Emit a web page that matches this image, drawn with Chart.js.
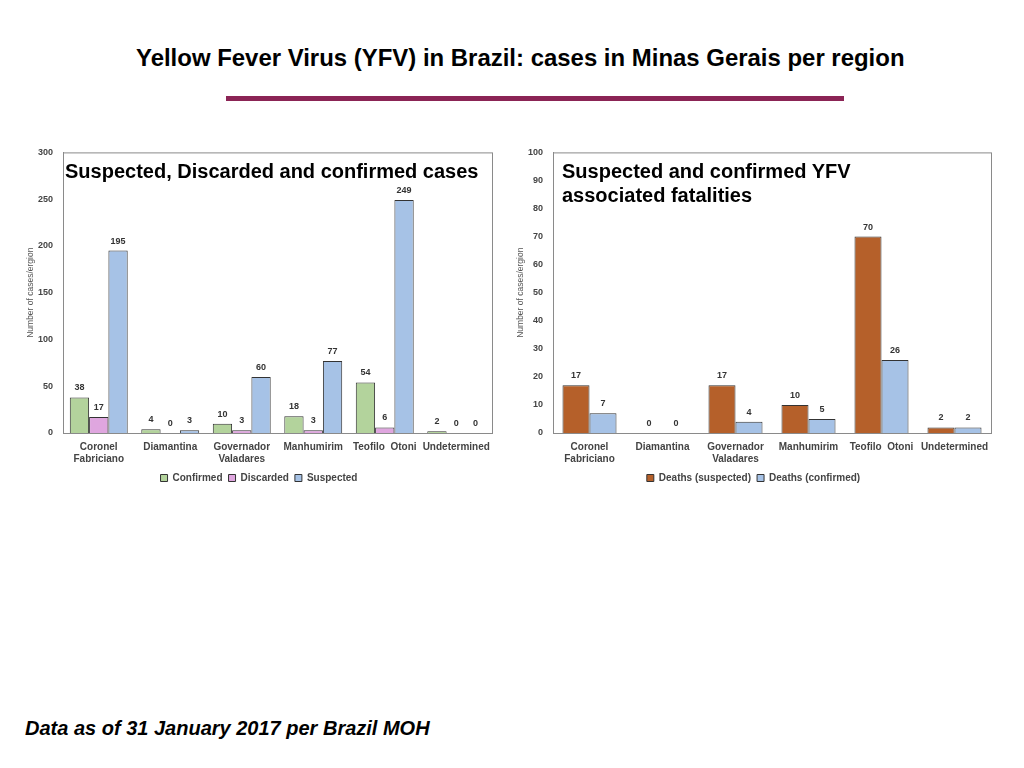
<!DOCTYPE html>
<html>
<head>
<meta charset="utf-8">
<script src="https://cdn.jsdelivr.net/npm/chart.js@4.4.1/dist/chart.umd.min.js"></script>
<style>
  body { margin:0; width:1024px; height:768px; background:#fff; position:relative; overflow:hidden; font-family:"Liberation Sans", Arial, sans-serif; }
  #title { position:absolute; top:44px; left:136px; white-space:nowrap; transform-origin:0 0; font-family:"Liberation Sans", Arial, sans-serif; font-weight:bold; font-size:24px; color:#000; }
  #rule { position:absolute; top:96px; left:226px; width:618px; height:5px; background:#8b2455; }
  .box { position:absolute; }
  .sub { position:absolute; font-weight:bold; font-size:20px; color:#000; line-height:24px; }
  #foot { position:absolute; top:717px; left:25px; font-weight:bold; font-style:italic; font-size:20px; color:#000; }
</style>
</head>
<body>
<div id="title">Yellow Fever Virus (YFV) in Brazil: cases in Minas Gerais per region</div>
<div id="rule"></div>

<div class="box" style="left:26px;top:137px;width:468px;height:356px;"><canvas id="casesChart"></canvas></div>
<div class="box" style="left:516px;top:137px;width:478px;height:356px;"><canvas id="deathsChart"></canvas></div>

<div class="sub" style="left:65px;top:159px;">Suspected, Discarded and confirmed cases</div>
<div class="sub" style="left:562px;top:159px;">Suspected and confirmed YFV<br>associated fatalities</div>

<div id="foot">Data as of 31 January 2017 per Brazil MOH</div>

<script>
// data
var regions = [['Coronel', 'Fabriciano'], 'Diamantina', ['Governador', 'Valadares'], 'Manhumirim', 'Teofilo  Otoni', 'Undetermined'];

var confirmed = [38, 4, 10, 18, 54, 2];
var discarded = [17, 0, 3, 3, 6, 0];
var suspected = [195, 3, 60, 77, 249, 0];

var deathsSuspected = [17, 0, 17, 10, 70, 2];
var deathsConfirmed = [7, 0, 4, 5, 26, 2];

var casesTicks = [0, 50, 100, 150, 200, 250, 300];
var deathsTicks = [0, 10, 20, 30, 40, 50, 60, 70, 80, 90, 100];

var tickFont = { family: '"Liberation Sans", Arial, sans-serif', size: 9, weight: 'bold' };
var labelFont = { family: '"Liberation Sans", Arial, sans-serif', size: 10, weight: 'bold' };

// squeeze the heading to the narrow width of the slide title
var t = document.getElementById('title');
t.style.transform = 'scaleX(' + (769 / t.scrollWidth) + ')';

// values above bars
var valueLabels = {
  id: 'valueLabels',
  afterDatasetsDraw: function(chart) {
    var ctx = chart.ctx;
    ctx.save();
    ctx.font = 'bold 9px "Liberation Sans", Arial, sans-serif';
    ctx.fillStyle = '#333';
    ctx.textAlign = 'center';
    ctx.textBaseline = 'bottom';
    chart.data.datasets.forEach(function(ds, i) {
      chart.getDatasetMeta(i).data.forEach(function(bar, j) {
        ctx.fillText(ds.data[j], bar.x, bar.y - 5);
      });
    });
    ctx.restore();
  }
};

// grey box round the plot area
var frame = {
  id: 'frame',
  beforeDatasetsDraw: function(chart) {
    var a = chart.chartArea, ctx = chart.ctx;
    ctx.save();
    ctx.strokeStyle = '#8a8a8a';
    ctx.lineWidth = 1;
    ctx.strokeRect(a.left + 0.5, a.top + 0.5, a.right - a.left, a.bottom - a.top);
    ctx.restore();
  }
};

function makeChart(id, datasets, ticks, catPct, rightPad) {
  var max = ticks[ticks.length - 1];
  return new Chart(document.getElementById(id), {
    type: 'bar',
    data: { labels: regions, datasets: datasets },
    plugins: [frame, valueLabels],
    options: {
      responsive: true,
      maintainAspectRatio: false,
      animation: false,
      layout: { padding: { top: 3, right: rightPad, bottom: 0, left: 0 } },
      datasets: { bar: { categoryPercentage: catPct, barPercentage: 1, borderWidth: 1, borderColor: '#333' } },
      scales: {
        x: {
          grid: { display: false },
          border: { color: '#8a8a8a' },
          ticks: { color: '#444', font: labelFont, maxRotation: 0, autoSkip: false, padding: 0 },
          afterFit: function(s) { s.height = 34; }
        },
        y: {
          min: 0, max: max,
          grid: { display: false, drawTicks: false },
          border: { color: '#8a8a8a' },
          afterBuildTicks: function(s) { s.ticks = ticks.map(function(v) { return { value: v }; }); },
          ticks: { color: '#444', font: tickFont, padding: 10 },
          title: { display: true, text: 'Number of cases/ergion', color: '#555', font: { family: '"Liberation Sans", Arial, sans-serif', size: 8.5 }, padding: 0 },
          afterFit: function(s) { s.width = 37; }
        }
      },
      plugins: {
        legend: {
          position: 'bottom',
          labels: { boxWidth: 7, boxHeight: 7, color: '#444', font: labelFont, padding: 6 }
        },
        tooltip: { enabled: false }
      }
    }
  });
}

makeChart('casesChart', [
  { label: 'Confirmed', data: confirmed, backgroundColor: '#b3d39c' },
  { label: 'Discarded', data: discarded, backgroundColor: '#dfa6df' },
  { label: 'Suspected', data: suspected, backgroundColor: '#a6c2e6' }
], casesTicks, 0.81, 2);

makeChart('deathsChart', [
  { label: 'Deaths (suspected)', data: deathsSuspected, backgroundColor: '#b5602a' },
  { label: 'Deaths (confirmed)', data: deathsConfirmed, backgroundColor: '#a6c2e6' }
], deathsTicks, 0.74, 3);
</script>
</body>
</html>
